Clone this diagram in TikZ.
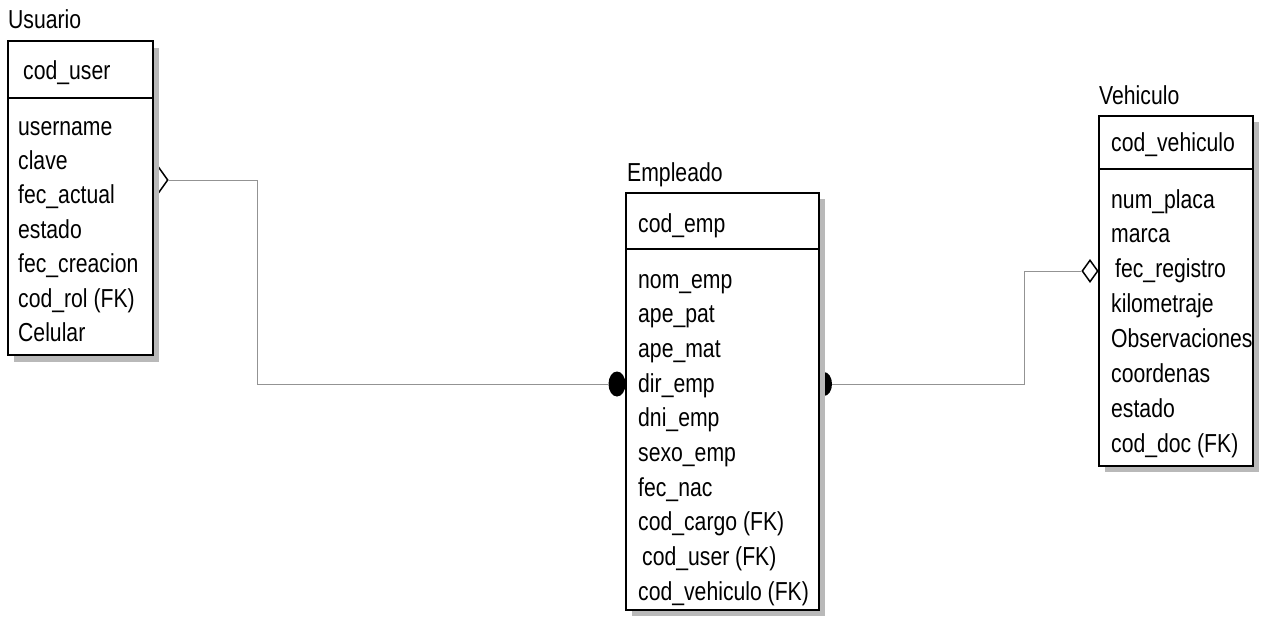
\documentclass[tikz,border=0pt]{standalone}
\usepackage{fontspec}
\setmainfont{Liberation Sans}[FakeStretch=0.815]
\usetikzlibrary{shapes.geometric}
\begin{document}
\begin{tikzpicture}[x=1pt,y=-1pt,
  ent/.style={draw=black, line width=1.7pt, fill=white, inner sep=0pt, anchor=north west},
  shd/.style={fill=gray!55, draw=none, inner sep=0pt, anchor=north west},
  sep/.style={draw=black, line width=1.7pt},
  txt/.style={anchor=base west, inner sep=0pt, font=\fontsize{26}{31}\selectfont},
  conn/.style={draw=gray!85, line width=1pt},
  opend/.style={diamond, draw=black, fill=white, line width=1.5pt, inner sep=0pt},
  fdot/.style={ellipse, fill=black, draw=none, inner sep=0pt}]
\useasboundingbox (0,0) rectangle (1277,618);

% markers
\node[opend, minimum width=18pt, minimum height=25pt] (ud) at (159,180) {};
\node[opend, minimum width=16pt, minimum height=22pt] (vd) at (1090,271) {};
\node[fdot, minimum width=17pt, minimum height=25pt] (ld) at (617,384) {};
\node[fdot, minimum width=16pt, minimum height=24pt] (rd) at (824,384) {};

% connectors
\coordinate (b1) at (257,180);
\coordinate (b2) at (1024,384);
\draw[conn] (ud.east) -- (b1) |- (ld.west);
\draw[conn] (rd.east) -- (b2) |- (vd.west);

% shadows
\node[shd, minimum width=145pt, minimum height=314pt] (usrs) at (14,48) {};
\node[shd, minimum width=193pt, minimum height=417pt] (emps) at (632,199) {};
\node[shd, minimum width=154pt, minimum height=350pt] (vehs) at (1105,122) {};

% boxes
\node[ent, minimum width=145pt, minimum height=314pt] (usr) at (7,40) {};
\node[ent, minimum width=193pt, minimum height=417pt] (emp) at (625,192) {};
\node[ent, minimum width=154pt, minimum height=350pt] (veh) at (1098,115) {};
\draw[sep] ([yshift=-58pt]usr.north west) -- ([yshift=-58pt]usr.north east);
\draw[sep] ([yshift=-57pt]emp.north west) -- ([yshift=-57pt]emp.north east);
\draw[sep] ([yshift=-54pt]veh.north west) -- ([yshift=-54pt]veh.north east);

% titles
\node[txt] (tu) at (8,29) {Usuario};
\node[txt] (te) at (627,181) {Empleado};
\node[txt] (tv) at (1099,104) {Vehiculo};

% keys
\node[txt] (ku) at (23,79) {cod\_user};
\node[txt] (ke) at (638,232) {cod\_emp};
\node[txt] (kv) at (1111,151) {cod\_vehiculo};

% attributes
\foreach \t [count=\i from 0] in {username,clave,fec\_actual,estado,fec\_creacion,cod\_rol (FK),Celular}
  \node[txt] (u\i) at (18,{135+34.4*\i}) {\t};
\foreach \t [count=\i from 0] in {nom\_emp,ape\_pat,ape\_mat,dir\_emp,dni\_emp,sexo\_emp,fec\_nac,cod\_cargo (FK),\hspace{4pt}cod\_user (FK),cod\_vehiculo (FK)}
  \node[txt] (e\i) at (638,{288+34.7*\i}) {\t};
\foreach \t [count=\i from 0] in {num\_placa,marca,\hspace{4pt}fec\_registro,kilometraje,Observaciones,coordenas,estado,cod\_doc (FK)}
  \node[txt] (v\i) at (1111,{208+34.9*\i}) {\t};
\end{tikzpicture}
\end{document}
